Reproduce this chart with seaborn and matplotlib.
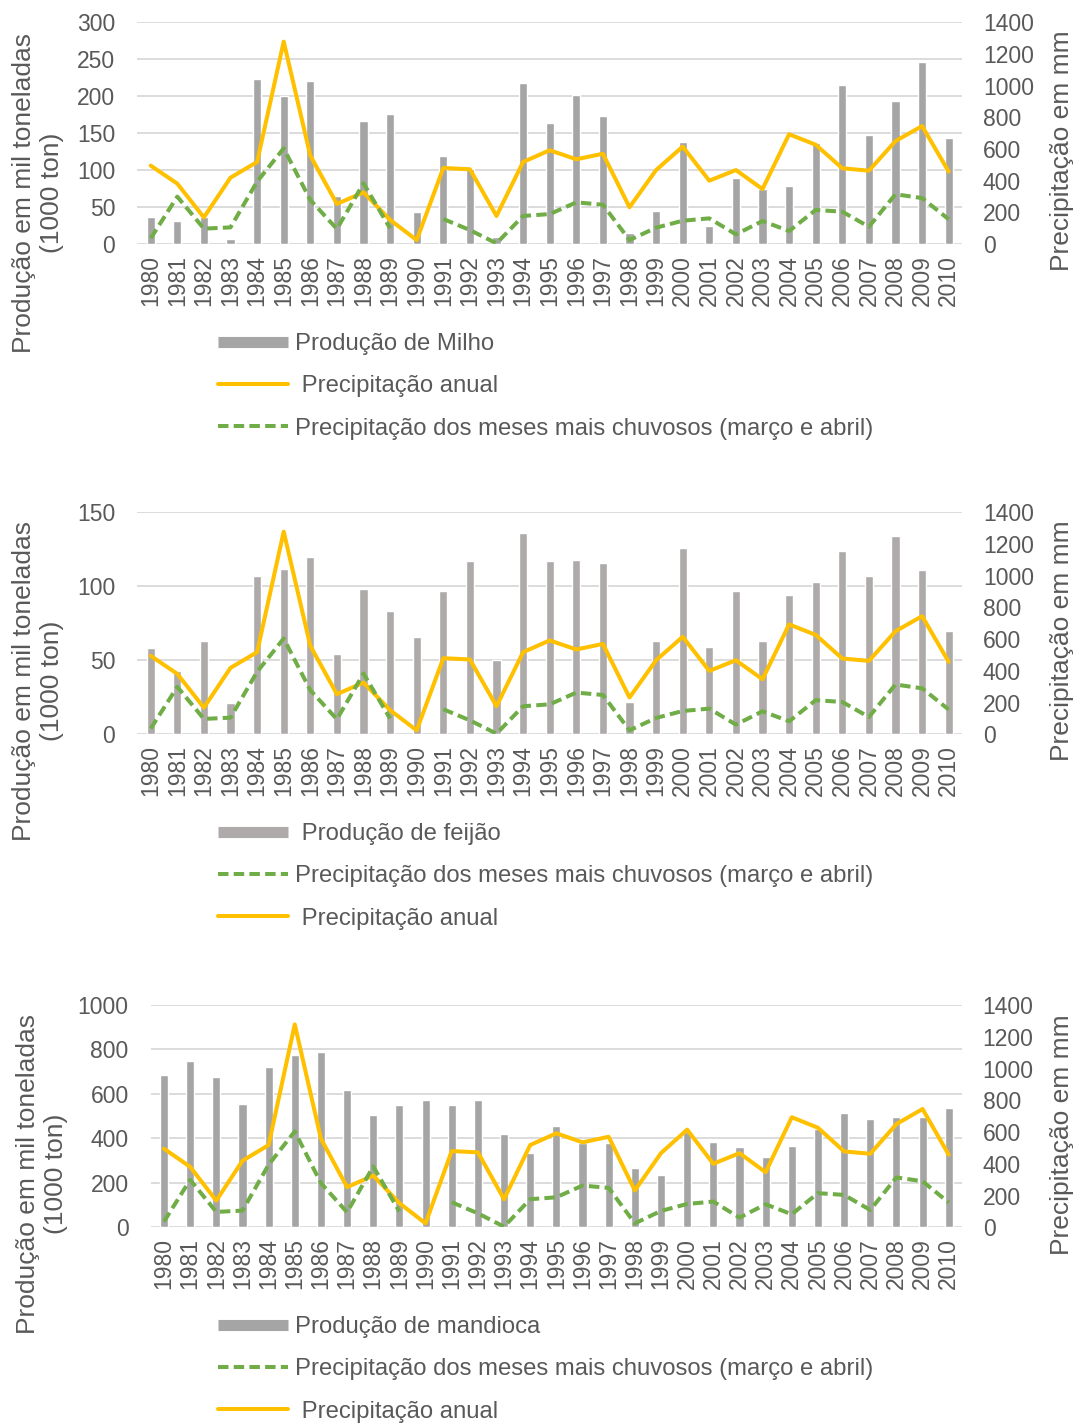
import numpy as np
import pandas as pd
import matplotlib
matplotlib.use("Agg")
import matplotlib.pyplot as plt
from matplotlib.lines import Line2D
import seaborn as sns

# ---------------- data ----------------
anos = [str(a) for a in range(1980, 2011)]

milho = [37, 31, 37, 7, 223, 200, 220, 65, 167, 176, 43, 119, 102, 9, 218, 164,
         201, 173, 15, 45, 138, 24, 89, 75, 79, 136, 215, 147, 193, 246, 144]
feijao = [58, 43, 63, 21, 107, 112, 120, 54, 98, 83, 66, 97, 117, 50, 136, 117,
          118, 116, 22, 63, 126, 59, 97, 63, 94, 103, 124, 107, 134, 111, 70]
mandioca = [684, 750, 675, 556, 720, 774, 789, 619, 504, 550, 574, 549, 571, 421, 334, 456,
            381, 381, 268, 235, 430, 384, 363, 318, 367, 441, 514, 489, 495, 498, 538]
prec_anual = [495, 381, 168, 419, 518, 1278, 558, 253, 326, 152, 25, 480, 472, 177, 518, 592,
              535, 570, 232, 467, 615, 400, 467, 347, 693, 627, 478, 463, 650, 745, 457]
prec_marco_abril = [36, 299, 97, 105, 394, 604, 278, 95, 383, 99, np.nan, 158, 88, 4, 177, 189,
                    263, 248, 25, 103, 147, 162, 61, 145, 82, 215, 204, 109, 314, 290, 156]

lbl_milho = "Produção de Milho"
lbl_feijao = " Produção de feijão"
lbl_mandioca = "Produção de mandioca"
lbl_anual = " Precipitação anual"
lbl_chuv = "Precipitação dos meses mais chuvosos (março e abril)"
lbl_left = "Produção em mil toneladas\n(1000 ton)"
lbl_right = "Precipitação em mm"

# ---------------- style ----------------
sns.set_style("white")
plt.rcParams['font.family'] = ['Liberation Sans', 'DejaVu Sans']

YELLOW = "#FFC000"
GREEN = "#70AD47"
GRAY = "#A5A5A5"
GRAY2 = "#AEAAAA"
TXT = "#595959"
GRID = "#D9D9D9"
FS_TICK = 16.5
FS_LEG = 17.2
FS_LAB = 19
LW = 2.9
DASH = (0, (2.6, 1.3))

W, H = 1077, 1423
fig = plt.figure(figsize=(W / 100, H / 100), dpi=100)


def rect(l, t, r, b):
    return [l / W, 1 - b / H, (r - l) / W, (b - t) / H]


def panel(box, prod, ymax, ystep, bar_color, order, leg_top, ylab_xy, rlab_y):
    ax = fig.add_axes(rect(*box))
    df = pd.DataFrame({"ano": anos, "prod": prod, "pos": np.arange(len(anos)),
                       "anual": prec_anual, "chuvosos": prec_marco_abril})
    df["seg"] = np.cumsum(np.isnan(df["chuvosos"].to_numpy()))

    sns.barplot(data=df, x="ano", y="prod", color=bar_color, saturation=1,
                width=0.31, ax=ax, zorder=2)

    ax2 = ax.twinx()
    sns.lineplot(data=df, x="pos", y="anual", color=YELLOW, lw=LW, ax=ax2,
                 legend=False, solid_joinstyle="round", solid_capstyle="round")
    sns.lineplot(data=df, x="pos", y="chuvosos", units="seg", estimator=None,
                 color=GREEN, lw=LW, linestyle=DASH, ax=ax2, legend=False)

    ax.set_xlim(-0.5, len(anos) - 0.5)
    ax.set_ylim(0, ymax)
    ax.set_yticks(np.arange(0, ymax + 1, ystep))
    ax2.set_ylim(0, 1400)
    ax2.set_yticks(np.arange(0, 1401, 200))
    ax.yaxis.grid(True, color=GRID, lw=1.3)
    ax.xaxis.grid(False)
    ax2.grid(False)
    ax.set_axisbelow(True)
    for a in (ax, ax2):
        for s in a.spines.values():
            s.set_visible(False)
        a.set_xlabel("")
        a.set_ylabel("")
    ax.tick_params(axis="both", length=0, labelsize=FS_TICK, labelcolor=TXT)
    ax.tick_params(axis="y", pad=16)
    ax.tick_params(axis="x", pad=8, labelrotation=90)
    ax2.tick_params(axis="y", length=0, pad=15, labelsize=FS_TICK, labelcolor=TXT)

    fig.text(ylab_xy[0] / W, 1 - ylab_xy[1] / H, lbl_left, rotation=90, ha="center",
             va="center", multialignment="center", fontsize=FS_LAB, color=TXT,
             linespacing=1.22)
    fig.text(1062 / W, 1 - rlab_y / H, lbl_right, rotation=90, ha="center",
             va="center", fontsize=FS_LAB, color=TXT)

    handles = {
        "bar": Line2D([0], [0], color=bar_color, lw=8, solid_capstyle="butt"),
        "anual": Line2D([0], [0], color=YELLOW, lw=LW),
        "chuv": Line2D([0], [0], color=GREEN, lw=LW, linestyle=DASH),
    }
    hs = [handles[k] for k, _ in order]
    ls = [l for _, l in order]
    fig.legend(hs, ls, loc="upper left", bbox_to_anchor=(218 / W, 1 - leg_top / H),
               frameon=False, borderpad=0, borderaxespad=0, handlelength=2.95,
               handletextpad=0.28, labelspacing=0.85, fontsize=FS_LEG, labelcolor=TXT)


panel((137.4, 22.3, 962, 244), milho, 300, 50, GRAY,
      [("bar", lbl_milho), ("anual", lbl_anual), ("chuv", lbl_chuv)],
      333, (38, 193), 151)
panel((137.4, 512.3, 962, 734.3), feijao, 150, 50, GRAY2,
      [("bar", lbl_feijao), ("chuv", lbl_chuv), ("anual", lbl_anual)],
      823, (38, 681), 641)
panel((150.9, 1005, 961.8, 1227.3), mandioca, 1000, 200, GRAY,
      [("bar", lbl_mandioca), ("chuv", lbl_chuv), ("anual", lbl_anual)],
      1316, (42, 1174), 1135)

fig.savefig("out.png", dpi=100)
